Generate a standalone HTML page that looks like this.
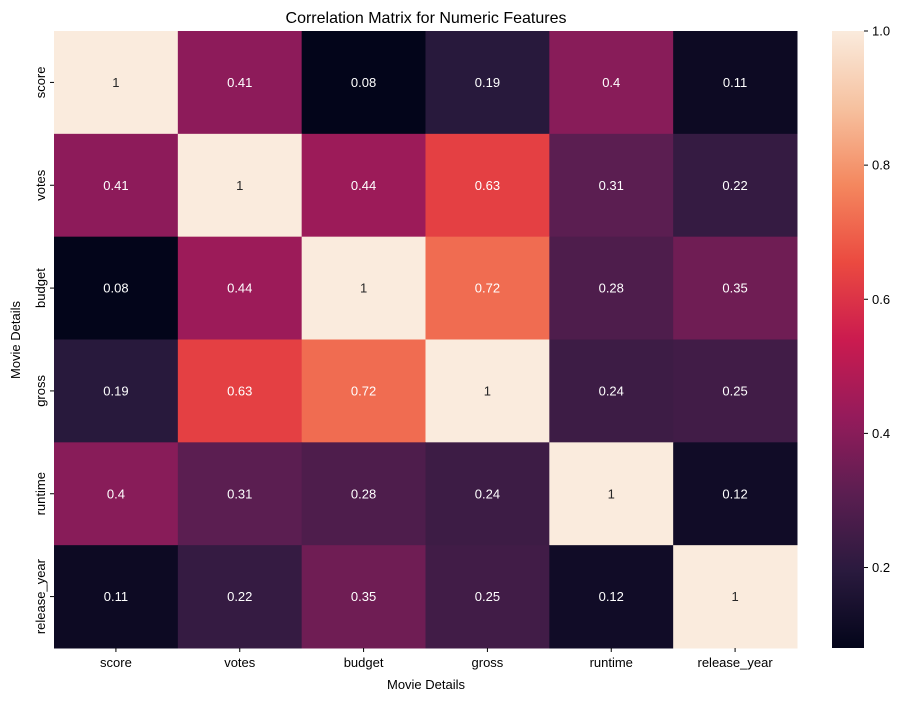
<!DOCTYPE html>
<html><head><meta charset="utf-8"><style>
html,body{margin:0;padding:0;background:#fff;}
svg{display:block;font-family:"Liberation Sans","DejaVu Sans",sans-serif;}
</style></head><body>
<svg id="chart" width="916" height="701">
<defs>
<linearGradient id="cbgrad" x1="0" y1="1" x2="0" y2="0">
<stop offset="0" stop-color="#03051a"/><stop offset="0.125" stop-color="#2a1a3e"/><stop offset="0.25" stop-color="#5b1e51"/><stop offset="0.375" stop-color="#951b5b"/><stop offset="0.5" stop-color="#cb1b4f"/><stop offset="0.625" stop-color="#eb4a40"/><stop offset="0.75" stop-color="#f4875e"/><stop offset="0.875" stop-color="#f6c19f"/><stop offset="1" stop-color="#faebdd"/>
</linearGradient></defs>
<text x="426" y="23" text-anchor="middle" font-size="16" fill="#000">Correlation Matrix for Numeric Features</text>
<g id="cells"></g>
<rect x="832" y="31" width="32" height="617" fill="url(#cbgrad)"/>
<g id="cbticks"></g>
<text x="426" y="689" text-anchor="middle" font-size="13">Movie Details</text>
<text transform="translate(20,340) rotate(-90)" text-anchor="middle" font-size="13">Movie Details</text>
</svg>
<script>
const labels = ["score","votes","budget","gross","runtime","release_year"];
const matrix = [
 [1,0.41,0.08,0.19,0.4,0.11],
 [0.41,1,0.44,0.63,0.31,0.22],
 [0.08,0.44,1,0.72,0.28,0.35],
 [0.19,0.63,0.72,1,0.24,0.25],
 [0.4,0.31,0.28,0.24,1,0.12],
 [0.11,0.22,0.35,0.25,0.12,1]
];
const cbTicks = [0.2,0.4,0.6,0.8,1.0];
const vmin = 0.08, vmax = 1.0;
const X0=54,X1=797,Y0=31,Y1=648;
const n=labels.length, cw=(X1-X0)/n, ch=(Y1-Y0)/n;
const stops=[[0,"#03051a"],[0.125,"#2a1a3e"],[0.25,"#5b1e51"],[0.375,"#951b5b"],[0.5,"#cb1b4f"],[0.625,"#eb4a40"],[0.75,"#f4875e"],[0.875,"#f6c19f"],[1,"#faebdd"]];
function hex(h){return [1,3,5].map(i=>parseInt(h.substr(i,2),16));}
function color(v){let t=Math.max(0,Math.min(1,(v-vmin)/(vmax-vmin)));
 for(let i=1;i<stops.length;i++){if(t<=stops[i][0]){const a=hex(stops[i-1][1]),b=hex(stops[i][1]);const f=(t-stops[i-1][0])/(stops[i][0]-stops[i-1][0]);return "rgb("+a.map((c,k)=>Math.round(c+(b[k]-c)*f)).join(",")+")";}}
 return stops[stops.length-1][1];}
const NS="http://www.w3.org/2000/svg";
const g=document.getElementById("cells");
function el(tag,attrs,parent){const e=document.createElementNS(NS,tag);for(const k in attrs)e.setAttribute(k,attrs[k]);parent.appendChild(e);return e;}
matrix.forEach((row,r)=>row.forEach((v,c)=>{
 const rect=el("rect",{x:X0+c*cw,y:Y0+r*ch,width:cw+0.5,height:ch+0.5,fill:color(v)},g);
 
 
 const t=el("text",{x:X0+(c+0.5)*cw,y:Y0+(r+0.5)*ch+4.5,"text-anchor":"middle","font-size":"13",fill:(v-vmin)/(vmax-vmin)>0.8?"#262626":"#fff"},g);
 t.textContent=String(v);
 
 
}));
labels.forEach((l,i)=>{
 el("line",{x1:X0+(i+0.5)*cw,x2:X0+(i+0.5)*cw,y1:Y1,y2:Y1+4,stroke:"#000"},g);
 const tx=el("text",{x:X0+(i+0.5)*cw,y:Y1+19,"text-anchor":"middle","font-size":"13"},g);
 tx.textContent=l;
 
 
 const yc=Y0+(i+0.5)*ch;
 el("line",{x1:X0-4,x2:X0,y1:yc,y2:yc,stroke:"#000"},g);
 const ty=el("text",{transform:"translate("+(X0-9)+","+yc+") rotate(-90)","text-anchor":"middle","font-size":"13"},g);
 ty.textContent=l;
 
 
});
const cb=document.getElementById("cbticks");
cbTicks.forEach(v=>{
 const y=Y1-(v-vmin)/(vmax-vmin)*(Y1-Y0);
 el("line",{x1:864,x2:868,y1:y,y2:y,stroke:"#000"},cb);
 const t=el("text",{x:872,y:y+4.5,"font-size":"13"},cb);
 t.textContent=v.toFixed(1);
 
 
});
</script>
</body></html>
